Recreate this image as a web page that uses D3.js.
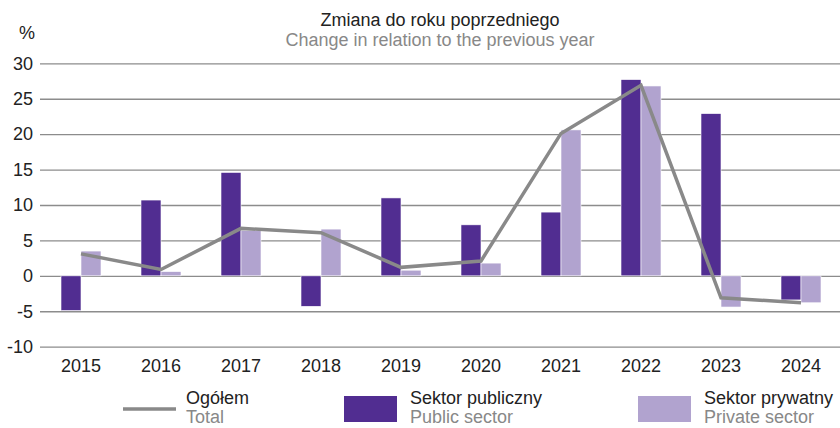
<!DOCTYPE html>
<html>
<head>
<meta charset="utf-8">
<script src="https://cdn.jsdelivr.net/npm/d3@7"></script>
<style>
  html, body { margin: 0; padding: 0; background: #fff; }
  svg { display: block; font-family: "Liberation Sans", Arial, sans-serif; }
</style>
</head>
<body>
<svg id="chart" width="840" height="428"></svg>
<script>
// Year-on-year change, %
const years = ["2015","2016","2017","2018","2019","2020","2021","2022","2023","2024"];
const publicSector  = [-4.9, 10.7, 14.6, -4.3, 11.0, 7.2, 9.0, 27.7, 22.9, -3.4];
const privateSector = [3.5, 0.6, 6.4, 6.6, 0.8, 1.8, 20.6, 26.8, -4.4, -3.8];
const total         = [3.1, 0.9, 6.7, 6.1, 1.2, 2.1, 20.1, 26.9, -3.1, -3.8];
const yTicks = [-10, -5, 0, 5, 10, 15, 20, 25, 30];

const seriesKeys = ["public", "private"];
const colors = { public: "#512d91", private: "#b1a3cf", total: "#898989" };

const svg = d3.select("#chart");

const x0 = d3.scaleBand().domain(years).range([41, 841])
  .paddingInner(0.5).paddingOuter(0.25);
const x1 = d3.scaleBand().domain(seriesKeys).range([0, x0.bandwidth()]);
const y = d3.scaleLinear().domain([-10, 30]).range([346.7, 63.3]);

// Horizontal gridlines with value labels (plain hyphen for negatives)
const yAxis = svg.append("g")
  .attr("transform", "translate(40,0)")
  .call(d3.axisLeft(y).tickValues(yTicks).tickSize(-800).tickPadding(7)
        .tickFormat(d => String(d)));
yAxis.select(".domain").remove();
yAxis.selectAll(".tick line").attr("stroke", "#8c8c8c").attr("stroke-width", 1.3);
yAxis.selectAll(".tick text")
  .attr("fill", "#222").attr("font-size", 18)
  .attr("font-family", "Liberation Sans, Arial, sans-serif");

// Year labels
const xAxis = svg.append("g")
  .attr("transform", "translate(0,357)")
  .call(d3.axisBottom(x0).tickSize(0).tickPadding(0));
xAxis.select(".domain").remove();
xAxis.selectAll(".tick text")
  .attr("fill", "#222").attr("font-size", 18).attr("dy", "0.85em")
  .attr("font-family", "Liberation Sans, Arial, sans-serif");

// Bars
const rows = years.map((yr, i) => ({ year: yr, public: publicSector[i], private: privateSector[i] }));
const groups = svg.append("g").selectAll("g")
  .data(rows).join("g")
  .attr("transform", d => `translate(${x0(d.year)},0)`);
groups.selectAll("rect")
  .data(d => seriesKeys.map(k => ({ key: k, value: d[k] })))
  .join("rect")
  .attr("x", d => x1(d.key))
  .attr("width", x1.bandwidth())
  .attr("y", d => y(Math.max(0, d.value)))
  .attr("height", d => Math.abs(y(d.value) - y(0)))
  .attr("fill", d => colors[d.key])
  .attr("stroke", "#fff").attr("stroke-width", 0.6);

// Total line
const line = d3.line()
  .x((d, i) => x0(years[i]) + x0.bandwidth() / 2)
  .y(d => y(d));
svg.append("path")
  .datum(total)
  .attr("d", line)
  .attr("fill", "none")
  .attr("stroke", colors.total)
  .attr("stroke-width", 3.5)
  .attr("stroke-linejoin", "miter");

// Titles
svg.append("text").attr("x", 440).attr("y", 26).attr("text-anchor", "middle")
  .attr("font-size", 18).attr("fill", "#222").text("Zmiana do roku poprzedniego");
svg.append("text").attr("x", 440).attr("y", 46).attr("text-anchor", "middle")
  .attr("font-size", 18).attr("fill", "#888").text("Change in relation to the previous year");
svg.append("text").attr("x", 19).attr("y", 39)
  .attr("font-size", 18).attr("fill", "#222").text("%");

// Legend
const legendItems = [
  { type: "line", color: colors.total, pl: "Ogółem", en: "Total", x: 123 },
  { type: "rect", color: colors.public, pl: "Sektor publiczny", en: "Public sector", x: 344 },
  { type: "rect", color: colors.private, pl: "Sektor prywatny", en: "Private sector", x: 638 }
];
const lg = svg.append("g").selectAll("g").data(legendItems).join("g")
  .attr("transform", d => `translate(${d.x},0)`);
lg.filter(d => d.type === "line").append("line")
  .attr("x1", 0).attr("x2", 53).attr("y1", 409).attr("y2", 409)
  .attr("stroke", d => d.color).attr("stroke-width", 3.5);
lg.filter(d => d.type === "rect").append("rect")
  .attr("x", 0).attr("y", 396).attr("width", 53).attr("height", 26)
  .attr("fill", d => d.color);
lg.append("text").attr("x", d => d.type === "line" ? 63 : 66).attr("y", 404)
  .attr("font-size", 18).attr("fill", "#222").text(d => d.pl);
lg.append("text").attr("x", d => d.type === "line" ? 63 : 66).attr("y", 423)
  .attr("font-size", 18).attr("fill", "#888").text(d => d.en);
</script>
</body>
</html>
